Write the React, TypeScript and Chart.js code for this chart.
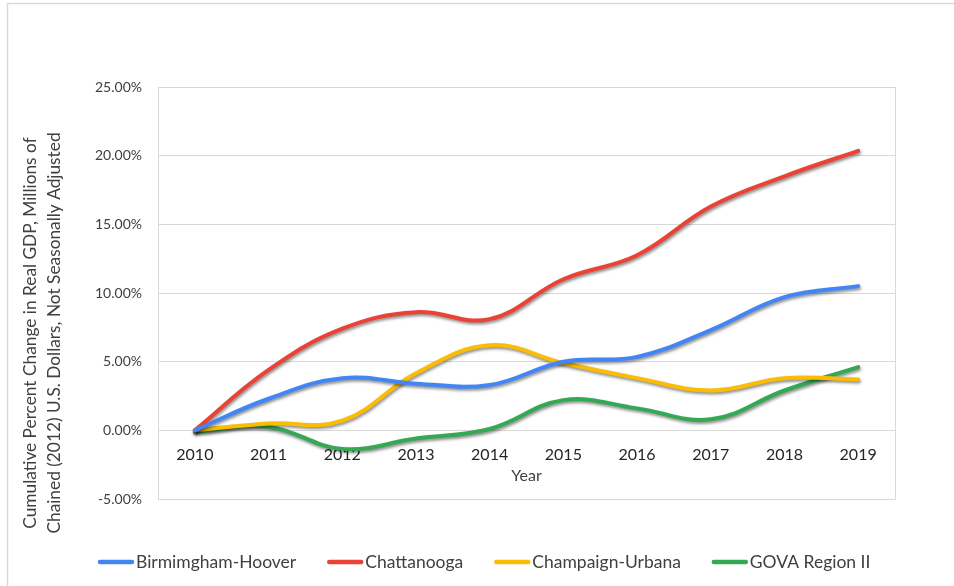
import React, { useEffect, useRef } from 'react';
import { Chart, registerables } from 'chart.js';

Chart.register(...registerables);

const years = ['2010', '2011', '2012', '2013', '2014', '2015', '2016', '2017', '2018', '2019'];
const birmingham = [0, 2.3, 3.8, 3.4, 3.3, 5.0, 5.35, 7.3, 9.7, 10.5];
const chattanooga = [0, 4.4, 7.4, 8.6, 8.1, 11.0, 12.75, 16.3, 18.5, 20.35];
const champaign = [0, 0.5, 0.7, 4.15, 6.2, 4.9, 3.8, 2.9, 3.8, 3.7];
const gova = [-0.1, 0.25, -1.35, -0.6, 0.1, 2.2, 1.6, 0.8, 2.9, 4.6];
const seriesNames = ['Birmimgham-Hoover', 'Chattanooga', 'Champaign-Urbana', 'GOVA Region II'];
const seriesColors = ['#4285F4', '#EA4335', '#FBBC04', '#34A853'];
const yTitleLines = [
  'Cumulative Percent Change in Real GDP, Millions of',
  'Chained (2012) U.S. Dollars, Not Seasonally Adjusted',
];
const xTitle = 'Year';
const yMin = -5;
const yMax = 25;
const yStep = 5;

const FONT = 'Lato, "Open Sans", sans-serif';

const framePlugin = {
  id: 'frame',
  beforeDraw(chart: any) {
    const { ctx } = chart;
    ctx.save();
    ctx.fillStyle = '#ffffff';
    ctx.fillRect(0, 0, chart.width, chart.height);
    ctx.strokeStyle = '#d9d9d9';
    ctx.lineWidth = 1.5;
    ctx.beginPath();
    ctx.moveTo(7.5, chart.height);
    ctx.lineTo(7.5, 3.5);
    ctx.lineTo(chart.width, 3.5);
    ctx.stroke();
    ctx.restore();
  },
  afterDraw(chart: any) {
    const { ctx } = chart;
    ctx.save();
    // y axis title (two lines)
    ctx.fillStyle = '#404040';
    ctx.font = '17.3px ' + FONT;
    ctx.textAlign = 'center';
    ctx.textBaseline = 'middle';
    const cy = 333;
    const xs = [30, 54];
    yTitleLines.forEach((t, i) => {
      ctx.save();
      ctx.translate(xs[i], cy);
      ctx.rotate(-Math.PI / 2);
      ctx.fillText(t, 0, 0);
      ctx.restore();
    });
    // legend
    ctx.font = '17.5px ' + FONT;
    ctx.textAlign = 'left';
    ctx.textBaseline = 'middle';
    let x = 98;
    const y = 562;
    chart.data.datasets.forEach((ds: any) => {
      ctx.strokeStyle = ds.borderColor;
      ctx.lineWidth = 4.5;
      ctx.lineCap = 'round';
      ctx.beginPath();
      ctx.moveTo(x + 2, y);
      ctx.lineTo(x + 34, y);
      ctx.stroke();
      x += 38;
      ctx.fillStyle = '#404040';
      ctx.fillText(ds.label, x, y);
      x += ctx.measureText(ds.label).width + 31;
    });
    ctx.restore();
  },
  beforeDatasetsDraw(chart: any) {
    const { ctx, chartArea } = chart;
    ctx.save();
    ctx.strokeStyle = '#d9d9d9';
    ctx.lineWidth = 1;
    ctx.strokeRect(
      Math.round(chartArea.left) + 0.5,
      Math.round(chartArea.top) + 0.5,
      Math.round(chartArea.right - chartArea.left),
      Math.round(chartArea.bottom - chartArea.top)
    );
    ctx.restore();
  },
  beforeDatasetDraw(chart: any) {
    const ctx = chart.ctx;
    ctx.save();
    ctx.shadowColor = 'rgba(0,0,0,0.45)';
    ctx.shadowBlur = 3;
    ctx.shadowOffsetX = 1;
    ctx.shadowOffsetY = 2;
  },
  afterDatasetDraw(chart: any) {
    chart.ctx.restore();
  },
};

export default function App() {
  const ref = useRef<HTMLCanvasElement | null>(null);

  useEffect(() => {
    if (!ref.current) return;
    const seriesData = [birmingham, chattanooga, champaign, gova];
    const chart = new Chart(ref.current, {
      type: 'line',
      data: {
        labels: years,
        datasets: seriesNames.map((name, i) => ({
          label: name,
          data: seriesData[i],
          borderColor: seriesColors[i],
          backgroundColor: seriesColors[i],
          borderWidth: 4,
          pointRadius: 0,
          tension: 0.4,
          borderCapStyle: 'round' as const,
          borderJoinStyle: 'round' as const,
          fill: false,
        })),
      },
      options: {
        responsive: false,
        animation: false,
        layout: { padding: { left: 80, right: 59, top: 87, bottom: 87 } },
        plugins: {
          tooltip: { enabled: false },
          legend: { display: false },
        },
        scales: {
          x: {
            type: 'category',
            position: { y: 0 } as any,
            offset: true,
            afterFit(scale: any) {
              scale.height = 46 + 9.6;
            },
            grid: { display: false, drawTicks: false },
            border: { display: false },
            ticks: { color: '#262626', padding: 15, font: { family: FONT, size: 16 } },
            title: {
              display: true,
              text: xTitle,
              color: '#404040',
              font: { family: FONT, size: 16 },
              padding: { top: 0, bottom: 0 },
            },
          },
          y: {
            min: yMin,
            max: yMax,
            afterFit(scale: any) {
              scale.width = 78;
            },
            grid: { color: '#d9d9d9', lineWidth: 1, drawTicks: false },
            border: { display: true, color: '#d9d9d9' },
            ticks: {
              stepSize: yStep,
              padding: 16,
              color: '#404040',
              font: { family: FONT, size: 14 },
              callback: (v: any) => Number(v).toFixed(2) + '%',
            },
          },
        },
      },
      plugins: [framePlugin],
    });
    return () => chart.destroy();
  }, []);

  return (
    <canvas
      ref={ref}
      width={954}
      height={586}
      style={{ position: 'fixed', left: 0, top: 0, width: 954, height: 586, display: 'block' }}
    />
  );
}
